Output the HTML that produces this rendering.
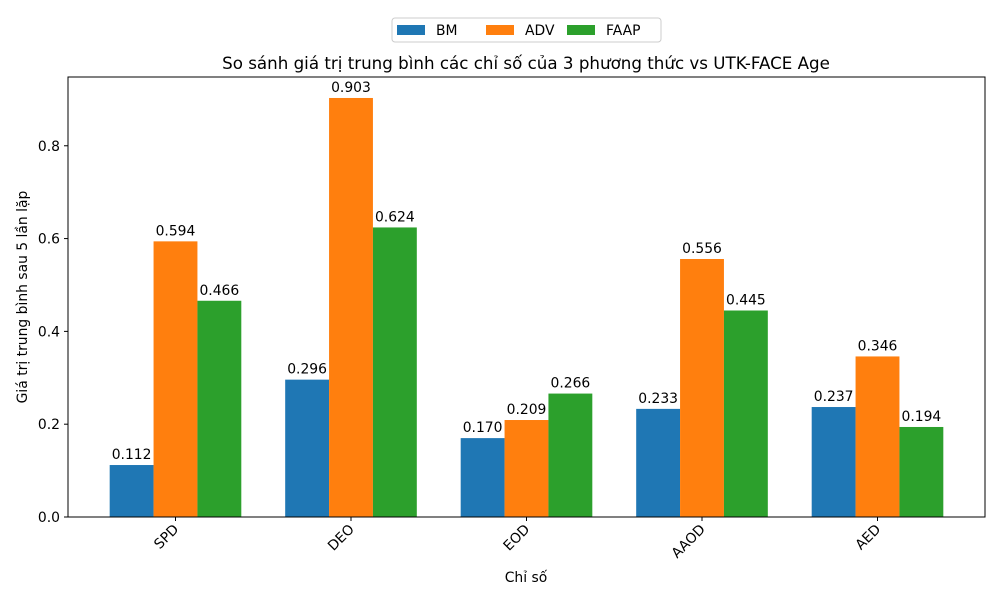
<!DOCTYPE html>
<html><head><meta charset="utf-8"><style>
body{margin:0;background:#fff}
svg text{font-family:"DejaVu Sans","Liberation Sans",sans-serif;fill:#000}
</style></head><body>
<svg id="chart" width="1000" height="600" viewBox="0 0 1000 600" xmlns="http://www.w3.org/2000/svg">
<rect width="1000" height="600" fill="#fff"/>
<g id="marks"></g>
<g id="axes"></g>
</svg>
<script>
const categories = ["SPD","DEO","EOD","AAOD","AED"];
const seriesNames = ["BM","ADV","FAAP"];
const bmValues = [0.112,0.296,0.170,0.233,0.237];
const advValues = [0.594,0.903,0.209,0.556,0.346];
const faapValues = [0.466,0.624,0.266,0.445,0.194];
const yTicks = [0.0,0.2,0.4,0.6,0.8];

const NS="http://www.w3.org/2000/svg";
const L=68,R=985,T=77,B=517;
const colors=["#1f77b4","#ff7f0e","#2ca02c"];
const xmin=-0.6125,xmax=categories.length-1+0.6125;
const ymax=0.9482;
const FS=13.9;
function xs(v){return L+(v-xmin)/(xmax-xmin)*(R-L);}
function ys(v){return B-v/ymax*(B-T);}
function el(tag,attrs,parent,text){const e=document.createElementNS(NS,tag);for(const k in attrs)e.setAttribute(k,attrs[k]);if(text!==undefined)e.textContent=text;parent.appendChild(e);return e;}
const marks=document.getElementById('marks'),axes=document.getElementById('axes');
const all=[bmValues,advValues,faapValues];
const w=0.25;
all.forEach((vals,s)=>{
  vals.forEach((v,i)=>{
    const x0=xs(i+(s-1)*w-w/2),x1=xs(i+(s-1)*w+w/2);
    const r=el('rect',{x:x0,y:ys(v),width:x1-x0,height:B-ys(v),fill:colors[s]},marks);
    
    
    const t=el('text',{x:(x0+x1)/2,y:ys(v)-6,'text-anchor':'middle','font-size':FS},marks,v.toFixed(3));
    
    
  });
});
const frame=el('rect',{x:L,y:T,width:R-L,height:B-T,fill:'none',stroke:'#000','stroke-width':1},axes);


yTicks.forEach(v=>{
  const y=ys(v);
  el('line',{x1:L-4,x2:L,y1:y,y2:y,stroke:'#000'},axes);
  const t=el('text',{x:L-8,y:y+5,'text-anchor':'end','font-size':FS},axes,v.toFixed(1));
  
  
});
categories.forEach((c,i)=>{
  const x=xs(i);
  el('line',{x1:x,x2:x,y1:B,y2:B+4,stroke:'#000'},axes);
  const t=el('text',{x:x+4,y:B+13,'text-anchor':'end','font-size':FS,transform:`rotate(-45 ${x+4} ${B+13})`},axes,c);
  
  
});
let t;
t=el('text',{x:526,y:582,'text-anchor':'middle','font-size':FS},axes,'Chỉ số');

t=el('text',{x:27,y:297,'text-anchor':'middle','font-size':FS,transform:'rotate(-90 27 297)'},axes,'Giá trị trung bình sau 5 lần lặp');

t=el('text',{x:526,y:69,'text-anchor':'middle','font-size':16.7},axes,'So sánh giá trị trung bình các chỉ số của 3 phương thức vs UTK-FACE Age');

const lg=el('g',{},axes);

el('rect',{x:392,y:18,width:269,height:24,rx:3,fill:'#fff',stroke:'#ccc'},lg);
const lx=[397,486,567];
seriesNames.forEach((n,s)=>{
  const g=el('g',{},lg);
  
  
  el('rect',{x:lx[s],y:25,width:28,height:10,fill:colors[s]},g);
  el('text',{x:lx[s]+39,y:35,'font-size':FS},g,n);
});
</script>
</body></html>
